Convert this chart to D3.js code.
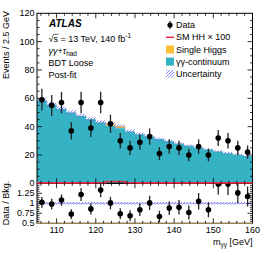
<!DOCTYPE html>
<html>
<head>
<meta charset="utf-8">
<script src="https://cdn.jsdelivr.net/npm/d3@7"></script>
<style>
  body { margin: 0; background: #fff; }
  svg text { font-family: "Liberation Sans", Arial, Helvetica, sans-serif; fill: #000; }
</style>
</head>
<body>
<svg id="chart" width="266" height="255"></svg>
<script>
// bin lower edges (2.5 GeV bins)
const binLo = [105, 107.5, 110, 112.5, 115, 117.5, 120, 122.5, 125, 127.5, 130,
  132.5, 135, 137.5, 140, 142.5, 145, 147.5, 150, 152.5, 155, 157.5]
const binW = 2.5

const dataCounts = [59, 55, 57, 37, 57, 39, 57, 42, 30, 25, 29, 33, 21, 26, 25, 20, 26, 20, 32, 30, 25, 22]
const continuum = [58.5, 55.5, 52.6, 50.0, 47.5, 45.2, 43.0, 40.4, 38.8, 36.6, 34.7, 32.9,
  31.2, 29.6, 28.0, 26.5, 25.1, 23.8, 22.5, 21.3, 20.2, 19.2]
const singleHiggs = [0.1, 0.1, 0.1, 0.1, 0.1, 0.1, 0.2, 1.6, 1.5, 0.2, 0.1, 0.1,
  0.1, 0.1, 0.1, 0.1, 0.1, 0.1, 0.1, 0.1, 0.1, 0.1]
const hh100 = [0.3, 0.3, 0.3, 0.3, 0.3, 0.3, 0.4, 1.3, 1.3, 0.4, 0.3, 0.3,
  0.3, 0.3, 0.3, 0.3, 0.3, 0.3, 0.3, 0.3, 0.3, 0.3]
const bkgUnc = [1.8, 1.7, 1.6, 1.5, 1.5, 1.4, 1.3, 1.3, 1.2, 1.1, 1.1, 1.0,
  1.0, 0.9, 0.9, 0.8, 0.8, 0.75, 0.7, 0.7, 0.65, 0.6]
const ratio = [1.025, 0.98, 1.08, 0.73, 1.22, 0.86, 1.33, 1.01, 0.74, 0.69, 0.84, 1.01,
  0.67, 0.88, 0.9, 0.77, 1.05, 0.84, 1.48, 1.48, 1.26, 1.17]

const yTicks = [0, 20, 40, 60, 80, 100, 120]
const rTicks = [0.5, 0.75, 1, 1.25]
const xTicks = [110, 120, 130, 140, 150, 160]

const svg = d3.select('#chart')
const L = 37, R = 252.5, T = 13.3, B = 183.3, RB = 223.3

const x = d3.scaleLinear().domain([105, 160]).range([L, R])
const y = d3.scaleLinear().domain([0, 120]).range([B, T])
const yr = d3.scaleLinear().domain([0.5, 1.5]).range([RB, B])

const cCont = '#35b2c3'
const cSH = '#fcbf33'
const cHH = '#e6304a'
const cUnc = '#6b6bf2'

const defs = svg.append('defs')
const pat = defs.append('pattern')
  .attr('id', 'hatch')
  .attr('patternUnits', 'userSpaceOnUse')
  .attr('width', 3).attr('height', 3)
pat.append('path')
  .attr('d', 'M-1,1 l2,-2 M0,3 l3,-3 M2,4 l2,-2')
  .attr('stroke', cUnc).attr('stroke-width', 0.8)

defs.append('clipPath').attr('id', 'clipMain')
  .append('rect').attr('x', L).attr('y', T).attr('width', R - L).attr('height', B - T)
defs.append('clipPath').attr('id', 'clipRatio')
  .append('rect').attr('x', L).attr('y', B).attr('width', R - L).attr('height', RB - B)

// step points incl. closing edge
function steps(vals) {
  const pts = binLo.map((lo, i) => [lo, vals[i]])
  pts.push([binLo[binLo.length - 1] + binW, vals[vals.length - 1]])
  return pts
}

const total = continuum.map((c, i) => c + singleHiggs[i])
const gMain = svg.append('g').attr('clip-path', 'url(#clipMain)')

// single higgs on top of continuum
gMain.append('path')
  .datum(steps(total).map((p, i) => [p[0], p[1], steps(continuum)[i][1]]))
  .attr('fill', cSH)
  .attr('d', d3.area().curve(d3.curveStepAfter)
    .x(d => x(d[0])).y0(d => y(d[2])).y1(d => y(d[1])))

gMain.append('path')
  .datum(steps(continuum))
  .attr('fill', cCont)
  .attr('d', d3.area().curve(d3.curveStepAfter)
    .x(d => x(d[0])).y0(y(0)).y1(d => y(d[1])))

// uncertainty band
const uncPts = steps(total).map((p, i) => {
  const u = bkgUnc[Math.min(i, bkgUnc.length - 1)]
  return [p[0], p[1] - u, p[1] + u]
})
gMain.append('path')
  .datum(uncPts)
  .attr('fill', 'url(#hatch)')
  .attr('d', d3.area().curve(d3.curveStepAfter)
    .x(d => x(d[0])).y0(d => y(d[1])).y1(d => y(d[2])))

// data points
const pts = binLo.map((lo, i) => ({ m: lo + binW / 2, n: dataCounts[i], r: ratio[i] }))
svg.append('g').selectAll('line')
  .data(pts).enter().append('line')
  .attr('x1', d => x(d.m)).attr('x2', d => x(d.m))
  .attr('y1', d => y(d.n - Math.sqrt(d.n))).attr('y2', d => y(d.n + Math.sqrt(d.n)))
  .attr('stroke', '#222').attr('stroke-width', 1.3)
svg.append('g').selectAll('circle')
  .data(pts).enter().append('circle')
  .attr('cx', d => x(d.m)).attr('cy', d => y(d.n)).attr('r', 2.8)
  .attr('fill', '#000')

// ratio panel
const gR = svg.append('g').attr('clip-path', 'url(#clipRatio)')
const rUnc = steps(total).map((p, i) => {
  const u = bkgUnc[Math.min(i, bkgUnc.length - 1)] / p[1]
  return [p[0], 1 - u, 1 + u]
})
gR.append('path')
  .datum(rUnc)
  .attr('fill', 'url(#hatch)')
  .attr('d', d3.area().curve(d3.curveStepAfter)
    .x(d => x(d[0])).y0(d => yr(d[1])).y1(d => yr(d[2])))
gR.append('line')
  .attr('x1', L).attr('x2', R).attr('y1', yr(1)).attr('y2', yr(1))
  .attr('stroke', cUnc).attr('stroke-width', 0.6).attr('stroke-dasharray', '2,1')
gR.selectAll('line.err')
  .data(pts).enter().append('line').attr('class', 'err')
  .attr('x1', d => x(d.m)).attr('x2', d => x(d.m))
  .attr('y1', d => yr(d.r - d.r / Math.sqrt(d.n))).attr('y2', d => yr(d.r + d.r / Math.sqrt(d.n)))
  .attr('stroke', '#222').attr('stroke-width', 1.3)
gR.selectAll('circle')
  .data(pts).enter().append('circle')
  .attr('cx', d => x(d.m)).attr('cy', d => yr(d.r)).attr('r', 2.8)
  .attr('fill', '#000')

// frames
svg.append('rect').attr('x', L).attr('y', T).attr('width', R - L).attr('height', B - T)
  .attr('fill', 'none').attr('stroke', '#000').attr('stroke-width', 1)
svg.append('rect').attr('x', L).attr('y', B).attr('width', R - L).attr('height', RB - B)
  .attr('fill', 'none').attr('stroke', '#000').attr('stroke-width', 1)
svg.append('line').attr('x1', L).attr('x2', R).attr('y1', RB).attr('y2', RB)
  .attr('stroke', '#b49a5a').attr('stroke-width', 1)

// HH x 100 line
svg.append('path')
  .datum(steps(hh100))
  .attr('fill', 'none').attr('stroke', cHH).attr('stroke-width', 1.6)
  .attr('d', d3.line().curve(d3.curveStepAfter).x(d => x(d[0])).y(d => y(d[1])))

// ticks inside, all sides
const tk = svg.append('g').attr('stroke', '#000').attr('stroke-width', 0.8)
const xMinor = d3.range(106, 160, 2)
function xTickRow(yy, dir) {
  xMinor.forEach(v => {
    const major = xTicks.includes(v)
    tk.append('line').attr('x1', x(v)).attr('x2', x(v))
      .attr('y1', yy).attr('y2', yy + dir * (major ? 5 : 2.5))
  })
}
xTickRow(T, 1); xTickRow(B, -1); xTickRow(B, 1); xTickRow(RB, -1)
d3.range(5, 120, 5).forEach(v => {
  const len = v % 20 === 0 ? 5 : 2.5
  tk.append('line').attr('x1', L).attr('x2', L + len).attr('y1', y(v)).attr('y2', y(v))
  tk.append('line').attr('x1', R).attr('x2', R - len).attr('y1', y(v)).attr('y2', y(v))
})
d3.range(0.55, 1.5, 0.05).forEach(v => {
  const major = rTicks.some(t => Math.abs(t - v) < 1e-6)
  const len = major ? 5 : 2.5
  tk.append('line').attr('x1', L).attr('x2', L + len).attr('y1', yr(v)).attr('y2', yr(v))
  tk.append('line').attr('x1', R).attr('x2', R - len).attr('y1', yr(v)).attr('y2', yr(v))
})

// tick labels
const fs = 9
svg.append('g').selectAll('text').data(yTicks).enter().append('text')
  .attr('x', L - 2.5).attr('y', d => y(d)).attr('dy', '0.35em')
  .attr('text-anchor', 'end').style('font-size', fs + 'px').text(d => d)
svg.append('g').selectAll('text').data(rTicks).enter().append('text')
  .attr('x', L - 2.5).attr('y', d => yr(d)).attr('dy', '0.35em')
  .attr('text-anchor', 'end').style('font-size', fs + 'px').text(d => d)
svg.append('g').selectAll('text').data(xTicks).enter().append('text')
  .attr('x', d => x(d)).attr('y', 233)
  .attr('text-anchor', 'middle').style('font-size', fs + 'px').text(d => d)

// axis titles
svg.append('text').attr('transform', 'translate(9,11) rotate(-90)')
  .attr('text-anchor', 'end').style('font-size', fs + 'px').text('Events / 2.5 GeV')
svg.append('text').attr('transform', 'translate(9,203) rotate(-90)')
  .attr('text-anchor', 'middle').style('font-size', fs + 'px').text('Data / Bkg.')
const xt = svg.append('text').attr('x', R).attr('y', 245)
  .attr('text-anchor', 'end').style('font-size', fs + 'px')
xt.append('tspan').text('m')
xt.append('tspan').attr('dy', 2).style('font-size', '6.5px').text('γγ')
xt.append('tspan').attr('dy', -2).text(' [GeV]')

// ATLAS label block
svg.append('text').attr('x', 49).attr('y', 27)
  .style('font-size', '10px').style('font-weight', 'bold').style('font-style', 'italic').text('ATLAS')
const s1 = svg.append('text').attr('x', 48.5).attr('y', 41.5).style('font-size', fs + 'px')
s1.append('tspan').text('√s = 13 TeV, 140 fb')
s1.append('tspan').attr('dy', -3.5).style('font-size', '6.5px').text('-1')
svg.append('line').attr('x1', 53).attr('x2', 58.5).attr('y1', 34.3).attr('y2', 34.3)
  .attr('stroke', '#000').attr('stroke-width', 0.6)
const s2 = svg.append('text').attr('x', 48.5).attr('y', 53.5).style('font-size', fs + 'px')
s2.append('tspan').style('font-style', 'italic').text('γγ')
s2.append('tspan').text('+')
s2.append('tspan').style('font-style', 'italic').text('τ')
s2.append('tspan').attr('dy', 2).style('font-size', '6.5px').text('had')
svg.append('text').attr('x', 48.5).attr('y', 65.5).style('font-size', fs + 'px').text('BDT Loose')
svg.append('text').attr('x', 48.5).attr('y', 77.5).style('font-size', fs + 'px').text('Post-fit')

// legend
const legY = [25, 37.3, 49.5, 61.6, 73.7]
const legX = 166, txtX = 176
const lg = svg.append('g')
lg.append('line').attr('x1', legX + 4).attr('x2', legX + 4).attr('y1', legY[0] - 4).attr('y2', legY[0] + 4)
  .attr('stroke', '#222').attr('stroke-width', 1.2)
lg.append('circle').attr('cx', legX + 4).attr('cy', legY[0]).attr('r', 2.6).attr('fill', '#000')
lg.append('line').attr('x1', legX).attr('x2', legX + 8).attr('y1', legY[1]).attr('y2', legY[1])
  .attr('stroke', cHH).attr('stroke-width', 1.6)
lg.append('rect').attr('x', legX).attr('y', legY[2] - 4).attr('width', 8).attr('height', 8).attr('fill', cSH)
lg.append('rect').attr('x', legX).attr('y', legY[3] - 4).attr('width', 8).attr('height', 8).attr('fill', cCont)
lg.append('rect').attr('x', legX).attr('y', legY[4] - 4).attr('width', 8).attr('height', 8).attr('fill', 'url(#hatch)')
const legTxt = ['Data', 'SM HH × 100', 'Single Higgs', 'γγ-continuum', 'Uncertainty']
lg.selectAll('text').data(legTxt).enter().append('text')
  .attr('x', txtX).attr('y', (d, i) => legY[i]).attr('dy', '0.35em')
  .style('font-size', fs + 'px').text(d => d)
</script>
</body>
</html>
